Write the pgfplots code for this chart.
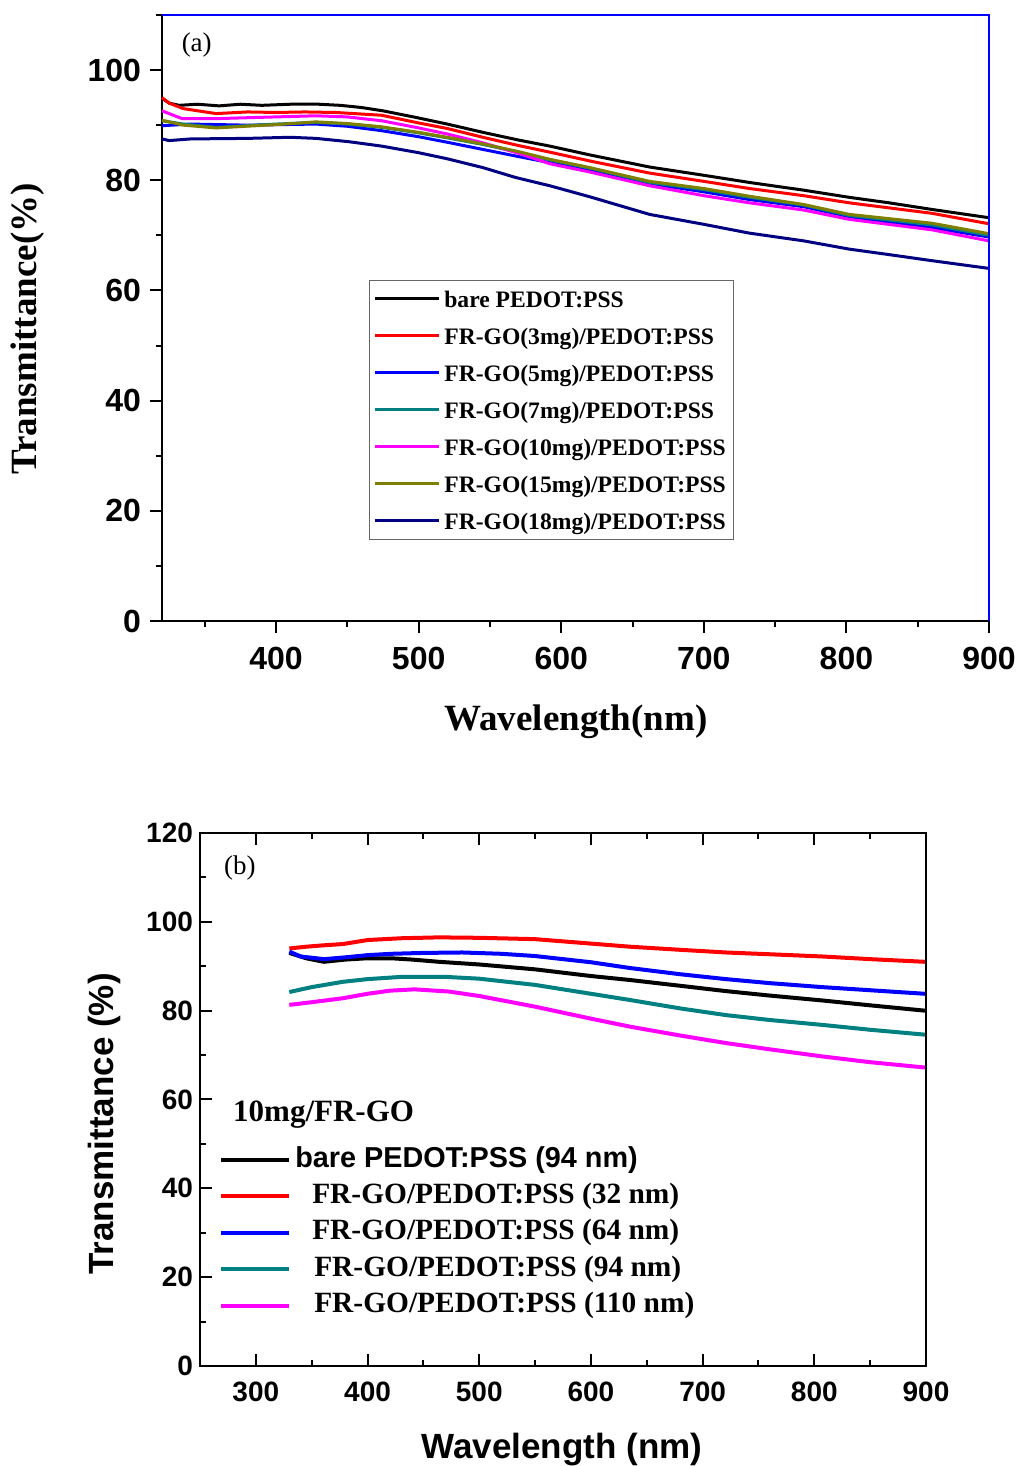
\documentclass[border=0pt]{standalone}
\usepackage{fontspec}
\setmainfont{Liberation Serif}
\setsansfont{Liberation Sans}
\usepackage{pgfplots}
\pgfplotsset{compat=1.18}

\definecolor{cTeal}{RGB}{0,128,128}
\definecolor{cOlive}{RGB}{128,128,0}
\definecolor{cNavy}{RGB}{0,0,128}
\definecolor{cBlue}{RGB}{0,0,255}
\definecolor{cMag}{RGB}{255,0,255}
\definecolor{cRed}{RGB}{255,0,0}

\begin{document}
\begin{tikzpicture}
\useasboundingbox (0pt,0pt) rectangle (509.5pt,733pt);
% ---------------- panel (a) ----------------
\begin{axis}[
 at={(81pt,422.5pt)}, anchor=south west,
 width=413.5pt, height=303pt, scale only axis,
 xmin=320, xmax=900, ymin=0, ymax=110,
 axis x line*=bottom, axis y line*=left,
 axis line style={line width=1pt},
 xtick={400,500,...,900}, ytick={0,20,...,100},
 minor xtick={350,450,...,850}, minor ytick={10,30,...,110},
 tick align=outside, major tick length=6pt, minor tick length=3pt,
 tick style={line width=1pt, black},
 tick label style={font=\fontsize{16}{18}\selectfont\sffamily\bfseries},
 xticklabel style={yshift=-3.5pt},
 yticklabel style={xshift=-1pt},
 /pgf/number format/assume math mode=true,
 xlabel={Wavelength(nm)}, ylabel={Transmittance(\%)},
 label style={font=\fontsize{18.5}{20}\selectfont\bfseries},
 xlabel style={at={(axis description cs:0.5006,-0.167)}, anchor=center},
 ylabel style={at={(axis description cs:-0.162,0.482)}, anchor=center},
 no markers, clip=false,
 every axis plot/.append style={line width=1.5pt},
 legend cell align=left,
 legend image code/.code={\draw[#1,line width=1.5pt] (0pt,0pt) -- (32pt,0pt);},
 legend style={at={(axis description cs:0.250,0.563)}, anchor=north west,
   draw=black!60, line width=0.6pt, fill=white,
   font=\fontsize{11.8}{13}\selectfont\bfseries,
   inner xsep=2pt, inner ysep=3pt, row sep=6.0pt,
   nodes={text height=8.5pt, text depth=0pt}},
]
\addplot[black] coordinates {(320,94.9)(325,94.0)(332,93.6)(345,93.8)(360,93.5)(375,93.8)(390,93.6)(410,93.8)(430,93.8)(445,93.6)(460,93.2)(475,92.6)(500,91.3)(520,90.2)(545,88.7)(570,87.3)(592,86.2)(620,84.6)(662,82.4)(700,80.9)(732,79.6)(770,78.2)(802,76.9)(830,75.9)(860,74.7)(900,73.2)};
\addlegendentry{bare PEDOT:PSS}
\addplot[cRed] coordinates {(320,95.0)(325,94.0)(335,93.0)(358,92.1)(380,92.4)(400,92.3)(420,92.4)(442,92.3)(474,91.8)(500,90.4)(520,89.4)(545,87.8)(570,86.3)(592,85.1)(620,83.5)(662,81.3)(700,79.8)(732,78.5)(770,77.2)(802,75.9)(860,74.0)(900,72.1)};
\addlegendentry{FR-GO(3mg)/PEDOT:PSS}
\addplot[cBlue] coordinates {(320,89.9)(340,90.2)(380,90.0)(428,90.2)(450,89.8)(474,89.0)(500,87.9)(520,86.9)(545,85.6)(570,84.3)(592,83.2)(620,81.7)(662,79.4)(700,77.9)(732,76.5)(770,75.2)(802,73.4)(860,71.4)(900,69.7)};
\addlegendentry{FR-GO(5mg)/PEDOT:PSS}
\addplot[cTeal] coordinates {(320,90.8)(335,90.2)(358,89.6)(400,90.2)(428,90.5)(450,90.2)(474,89.6)(500,88.6)(520,87.7)(545,86.5)(570,85.1)(592,83.7)(620,82.2)(662,79.6)(700,78.3)(732,76.9)(770,75.5)(802,73.6)(860,71.9)(900,70.0)};
\addlegendentry{FR-GO(7mg)/PEDOT:PSS}
\addplot[cMag] coordinates {(320,92.6)(334,91.2)(360,91.2)(400,91.5)(428,91.7)(450,91.5)(474,90.8)(500,89.5)(520,88.4)(545,86.8)(570,84.9)(592,83.0)(620,81.5)(662,79.0)(700,77.2)(732,75.9)(770,74.6)(802,72.9)(860,71.0)(900,69.0)};
\addlegendentry{FR-GO(10mg)/PEDOT:PSS}
\addplot[cOlive] coordinates {(320,90.9)(335,90.0)(358,89.5)(400,90.1)(428,90.6)(450,90.3)(474,89.7)(500,88.7)(520,87.8)(545,86.6)(570,85.2)(592,83.8)(620,82.3)(662,79.8)(700,78.5)(732,77.1)(770,75.6)(802,73.8)(860,72.2)(900,70.3)};
\addlegendentry{FR-GO(15mg)/PEDOT:PSS}
\addplot[cNavy] coordinates {(320,87.5)(325,87.2)(340,87.5)(380,87.6)(410,87.8)(428,87.6)(451,87.0)(474,86.2)(500,85.0)(520,83.9)(545,82.3)(568,80.5)(592,79.0)(620,77.0)(662,73.8)(700,72.0)(732,70.4)(770,69.0)(802,67.5)(830,66.5)(860,65.4)(900,64.0)};
\addlegendentry{FR-GO(18mg)/PEDOT:PSS}
\draw[cBlue, line width=1.2pt] (rel axis cs:0,1) -- (rel axis cs:1,1) -- (rel axis cs:1,0);
\node[font=\fontsize{13.5}{15}\selectfont] at (axis description cs:0.042,0.950) {(a)};
\end{axis}
% ---------------- panel (b) ----------------
\begin{axis}[
 at={(100pt,50pt)}, anchor=south west,
 width=363pt, height=266.5pt, scale only axis,
 xmin=250, xmax=900, ymin=0, ymax=120,
 axis line style={line width=1.2pt},
 xtick={300,400,...,900}, ytick={0,20,...,120},
 minor xtick={350,450,...,850}, minor ytick={10,30,...,110},
 ytick pos=left,
 tick align=inside, major tick length=6pt, minor tick length=3pt,
 tick style={line width=1pt, black},
 tick label style={font=\fontsize{14}{16}\selectfont\sffamily\bfseries},
 xticklabel style={yshift=-4.5pt},
 /pgf/number format/assume math mode=true,
 xlabel={Wavelength (nm)}, ylabel={Transmittance (\%)},
 label style={font=\fontsize{17.5}{19}\selectfont\sffamily\bfseries},
 xlabel style={at={(axis description cs:0.4986,-0.157)}, anchor=center},
 ylabel style={at={(axis description cs:-0.131,0.454)}, anchor=center},
 no markers,
 every axis plot/.append style={line width=2pt},
 legend cell align=left,
 legend image code/.code={\draw[#1,line width=2pt] (0pt,0pt) -- (34pt,0pt);},
 legend style={at={(axis description cs:0.026,0.419)}, anchor=north west,
   draw=none, fill=none,
   font=\fontsize{14.7}{16}\selectfont\bfseries,
   inner sep=0pt, row sep=1.2pt,
   nodes={text height=10pt, text depth=3pt}},
]
\addplot[black] coordinates {(330,93.0)(345,91.8)(361,91.0)(380,91.5)(400,91.8)(421,91.8)(440,91.5)(464,91.0)(500,90.4)(550,89.3)(600,87.8)(635,86.9)(680,85.6)(721,84.4)(760,83.4)(807,82.3)(850,81.2)(899,80.0)};
\addlegendentry{{\sffamily\fontsize{14.4}{16}\selectfont bare PEDOT:PSS (94 nm)}}
\addplot[cRed] coordinates {(330,94.0)(345,94.4)(360,94.7)(378,95.0)(400,95.9)(430,96.3)(464,96.5)(500,96.4)(550,96.1)(600,95.1)(635,94.4)(680,93.7)(721,93.1)(760,92.7)(807,92.2)(850,91.6)(899,91.0)};
\addlegendentry{\hspace*{8.5pt}FR-GO/PEDOT:PSS (32 nm)}
\addplot[cBlue] coordinates {(330,93.3)(340,92.2)(361,91.6)(380,92.0)(400,92.5)(421,92.8)(450,93.0)(485,93.1)(520,92.8)(550,92.3)(600,90.9)(635,89.6)(680,88.2)(721,87.1)(760,86.2)(807,85.3)(850,84.6)(899,83.8)};
\addlegendentry{\hspace*{8.5pt}FR-GO/PEDOT:PSS (64 nm)}
\addplot[cTeal] coordinates {(330,84.2)(350,85.3)(378,86.5)(400,87.1)(430,87.6)(470,87.6)(500,87.2)(550,85.8)(600,83.8)(635,82.4)(680,80.5)(721,79.0)(760,77.9)(807,76.8)(850,75.7)(899,74.6)};
\addlegendentry{\hspace*{9.5pt}FR-GO/PEDOT:PSS (94 nm)}
\addplot[cMag] coordinates {(330,81.3)(350,81.9)(378,82.8)(400,83.8)(420,84.5)(442,84.8)(473,84.3)(500,83.3)(550,80.9)(600,78.2)(635,76.4)(680,74.4)(721,72.7)(760,71.3)(807,69.7)(850,68.4)(899,67.2)};
\addlegendentry{\hspace*{9.5pt}FR-GO/PEDOT:PSS (110 nm)}
\node[font=\fontsize{13.5}{15}\selectfont] at (axis description cs:0.055,0.934) {(b)};
\node[font=\fontsize{15.5}{17}\selectfont\bfseries, anchor=west] at (axis description cs:0.036,0.471) {10mg/FR-GO};
\end{axis}
\end{tikzpicture}
\end{document}
